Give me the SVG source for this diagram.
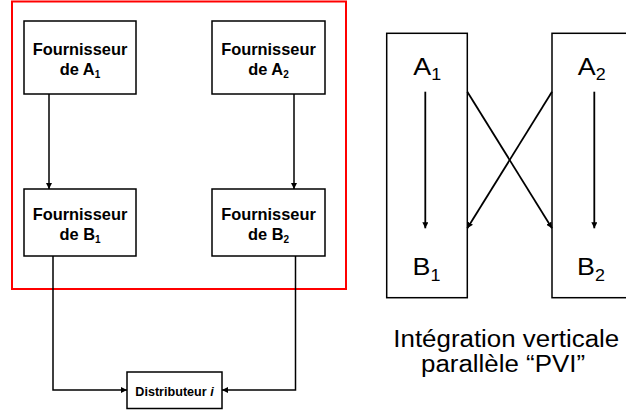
<svg xmlns="http://www.w3.org/2000/svg" width="626" height="412" viewBox="0 0 626 412">
<defs>
<style>
.box{fill:#fff;stroke:#000;stroke-width:1.5}
.lbl{font-family:"Liberation Sans",Arial,sans-serif;font-weight:bold;font-size:16.4px;fill:#000;text-anchor:middle}
.sub{font-size:10px}
.big{font-family:"Liberation Sans",Arial,sans-serif;font-size:24px;fill:#000}
.cap{font-family:"Liberation Sans",Arial,sans-serif;font-size:23px;fill:#000;text-anchor:middle}
.con{fill:none;stroke:#000;stroke-width:1.5}
.con2{fill:none;stroke:#000;stroke-width:1.8}
</style>
<marker id="ah" viewBox="0 0 10 10" refX="10" refY="5" markerWidth="6" markerHeight="6" markerUnits="userSpaceOnUse" orient="auto">
<path d="M0,0 L10,5 L0,10 z" fill="#000"/>
</marker>
</defs>
<rect x="12" y="1.5" width="334" height="287.5" fill="none" stroke="#ff0000" stroke-width="2"/>
<g id="fA1">
<rect class="box" x="24" y="21" width="112" height="73"/>
<text class="lbl" x="80" y="54.5">Fournisseur</text>
<text class="lbl" x="80" y="75">de A<tspan class="sub" dy="3">1</tspan></text>
</g>
<g id="fA2">
<rect class="box" x="212" y="21" width="113" height="73"/>
<text class="lbl" x="268.5" y="54.5">Fournisseur</text>
<text class="lbl" x="268.5" y="75">de A<tspan class="sub" dy="3">2</tspan></text>
</g>
<g id="fB1">
<rect class="box" x="24" y="189" width="112" height="67"/>
<text class="lbl" x="80" y="219.5">Fournisseur</text>
<text class="lbl" x="80" y="240">de B<tspan class="sub" dy="3">1</tspan></text>
</g>
<g id="fB2">
<rect class="box" x="212" y="189" width="113" height="67"/>
<text class="lbl" x="268.5" y="219.5">Fournisseur</text>
<text class="lbl" x="268.5" y="240">de B<tspan class="sub" dy="3">2</tspan></text>
</g>
<g id="dist">
<rect class="box" x="127" y="372" width="95" height="36.5"/>
<text class="lbl" x="174.5" y="396" style="font-size:12.6px">Distributeur <tspan font-style="italic">i</tspan></text>
</g>
<g id="col1">
<rect class="box" x="386.7" y="33.3" width="80.6" height="264.4"/>
<text class="big" transform="translate(413.3,75) scale(1.12,1)">A<tspan font-size="16" dy="5">1</tspan></text>
<text class="big" transform="translate(412.5,274.5) scale(1.12,1)">B<tspan font-size="16" dy="6">1</tspan></text>
</g>
<g id="col2">
<rect class="box" x="552" y="33.3" width="82" height="264.4"/>
<text class="big" transform="translate(577.7,75) scale(1.12,1)">A<tspan font-size="16" dy="5">2</tspan></text>
<text class="big" transform="translate(577,274.5) scale(1.12,1)">B<tspan font-size="16" dy="6">2</tspan></text>
</g>
<g id="caption">
<text class="cap" transform="translate(506.3,346.5) scale(1.126,1)">Intégration verticale</text>
<text class="cap" transform="translate(503,372) scale(1.126,1)">parallèle “PVI”</text>
</g>
<g id="connectors">
<line class="con" x1="49" y1="94" x2="49" y2="189" marker-end="url(#ah)"/>
<line class="con" x1="294" y1="94" x2="294" y2="189" marker-end="url(#ah)"/>
<polyline class="con" points="53,256 53,390 127,390" marker-end="url(#ah)"/>
<polyline class="con" points="295.5,256 295.5,390 222,390" marker-end="url(#ah)"/>
<line class="con2" x1="425.3" y1="91.7" x2="425.3" y2="228.3" marker-end="url(#ah)"/>
<line class="con2" x1="594.3" y1="91.7" x2="594.3" y2="228.3" marker-end="url(#ah)"/>
<line class="con2" x1="467.3" y1="91.7" x2="552" y2="228.3" marker-end="url(#ah)"/>
<line class="con2" x1="552" y1="91.7" x2="467.3" y2="228.3" marker-end="url(#ah)"/>
</g>
</svg>
